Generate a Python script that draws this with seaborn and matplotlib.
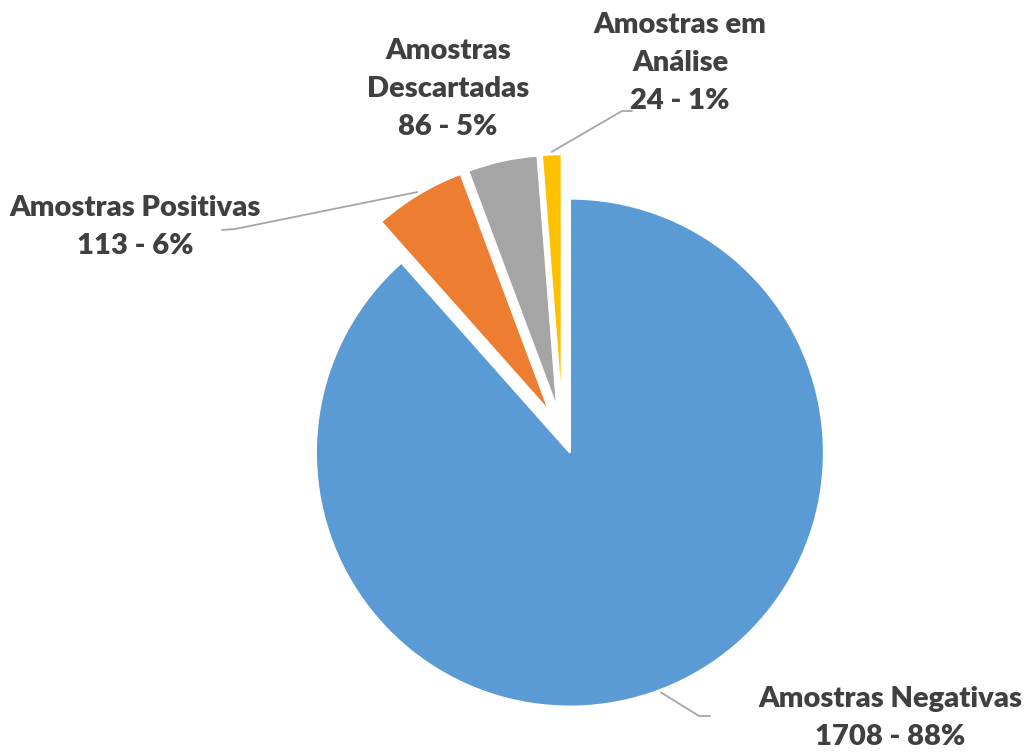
import matplotlib
matplotlib.use("Agg")
import matplotlib.pyplot as plt
import seaborn as sns
import numpy as np

# dados
categorias = ["Amostras Negativas", "Amostras Positivas", "Amostras Descartadas", "Amostras em Análise"]
rotulos = ["Amostras Negativas", "Amostras Positivas", "Amostras\nDescartadas", "Amostras em\nAnálise"]
valores = [1708, 113, 86, 24]
percentuais = ["88%", "6%", "5%", "1%"]
cores = ["#5B9BD5", "#ED7D31", "#A5A5A5", "#FFC000"]

sns.set_theme(style="white")
plt.rcParams["font.family"] = ["Lato", "DejaVu Sans"]

W, H = 1024, 752
R = 254.0              # raio da pizza em px
CX, CY = 562.7, 433.6  # centro da pizza em px (origem no topo)
COR_TEXTO = "#404040"
COR_LINHA = "#A6A6A6"


def px(x, y):
    """Converte coordenadas em pixel (origem topo-esquerda) para dados."""
    return (x - CX) / R, (CY - y) / R


fig = plt.figure(figsize=(W / 100, H / 100), dpi=100)
ax = fig.add_axes([0, 0, 1, 1])
wedges, _ = ax.pie(valores, colors=cores, startangle=90, counterclock=False,
                   explode=[0.08, 0.1, 0.1, 0.1], radius=1,
                   wedgeprops=dict(edgecolor="white", linewidth=1.5))
ax.set_xlim(-CX / R, (W - CX) / R)
ax.set_ylim(-(H - CY) / R, CY / R)
ax.set_aspect("equal")
ax.axis("off")

# posição dos rótulos (centro do texto, px) e cotovelo/fim da linha guia
pos_rotulo = [(890, 718), (135, 227), (448, 89), (680, 63)]
guias = [[(699, 716), (710, 716)],
         [(235, 229), (222, 230)],
         None,
         [(622, 111), (632, 111)]]

for w, rot, val, pct, pos, guia in zip(wedges, rotulos, valores, percentuais, pos_rotulo, guias):
    x, y = px(*pos)
    ax.text(x, y, f"{rot}\n{val} - {pct}", ha="center", va="center",
            fontsize=21, fontweight="heavy", color=COR_TEXTO, linespacing=1.58)
    if guia is None:
        continue
    ang = np.deg2rad((w.theta1 + w.theta2) / 2)
    x0 = w.center[0] + w.r * 1.01 * np.cos(ang)
    y0 = w.center[1] + w.r * 1.01 * np.sin(ang)
    xs = [x0] + [px(*p)[0] for p in guia]
    ys = [y0] + [px(*p)[1] for p in guia]
    ax.plot(xs, ys, color=COR_LINHA, lw=1.3)

fig.savefig("out.png", dpi=100, facecolor="white")
